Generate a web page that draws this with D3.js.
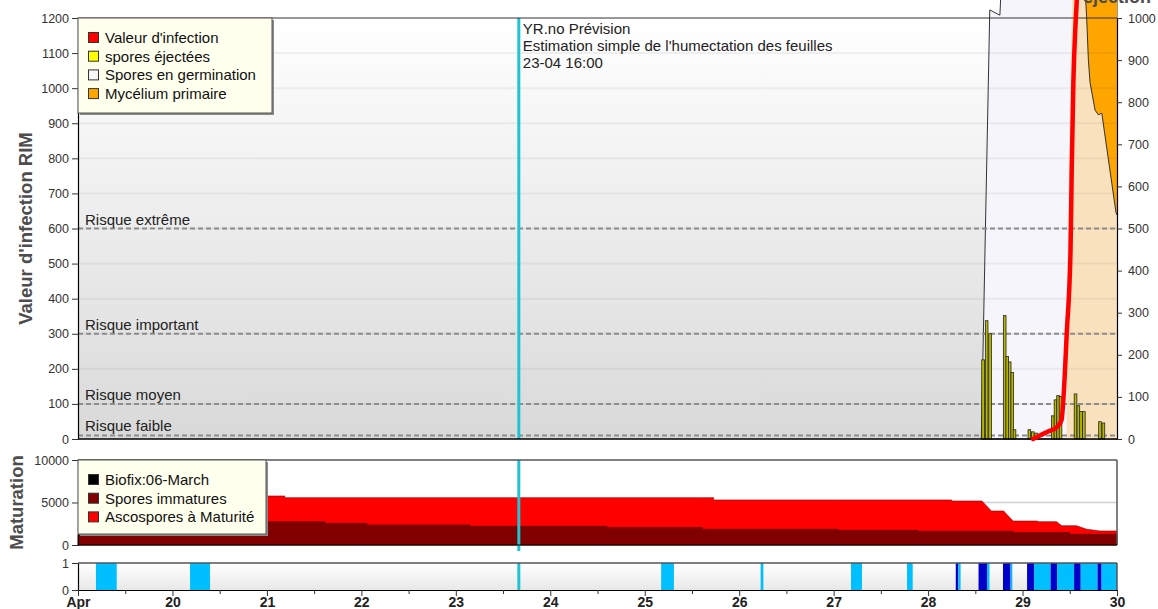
<!DOCTYPE html>
<html>
  <head>
    <title>RIM - Valeur d'infection</title>
    <style>
      body {
        margin: 0;
        background: #fff;
      }
      text {
        font-family: 'Liberation Sans', Arial, sans-serif;
      }
    </style>
  </head>
  <body>
    <svg id="svg" width="1158" height="609"></svg>
    <script src="https://cdn.jsdelivr.net/npm/d3@7"></script>
    <script>
      const left = 78;
      const right = 1117;

      // days of April (decimal), x axis
      const dayTicks = [19, 20, 21, 22, 23, 24, 25, 26, 27, 28, 29, 30];
      const dayLabels = ['Apr', '20', '21', '22', '23', '24', '25', '26', '27', '28', '29', '30'];

      const riskValues = [600, 300, 100, 10];
      const riskLabels = ['Risque extrême', 'Risque important', 'Risque moyen', 'Risque faible'];

      const forecastDay = 23.667;
      const forecastLines = ['YR.no Prévision', "Estimation simple de l'humectation des feuilles", '23-04 16:00'];

      const legendNames = ["Valeur d'infection", 'spores éjectées', 'Spores en germination', 'Mycélium primaire'];
      const legendColors = ['#ff0000', '#ffff00', '#f6f6f6', '#ffa500'];

      // spores ejected (right axis)
      const sporeDays = [28.582, 28.62, 28.656, 28.811, 28.838, 28.864, 28.891, 28.915, 29.072, 29.108, 29.143,
        29.321, 29.349, 29.376, 29.402, 29.561, 29.591, 29.619, 29.649, 29.82, 29.856];
      const sporeValues = [188, 281, 250, 293, 196, 183, 158, 22, 22, 17, 14, 55, 93, 103, 101, 107, 79, 65, 65, 41, 38];

      // spores in germination (left axis)
      const germDays = [28.563, 28.653, 28.76, 28.78, 30];
      const germValues = [0, 1223, 1208, 1320, 1320];

      // primary mycelium, light part (left axis)
      const myceliumDays = [29.465, 29.48, 29.5, 29.53, 30];
      const myceliumValues = [0, 540, 900, 1320, 1320];

      // primary mycelium, remaining (right axis)
      const primaryDays = [29.655, 29.68, 29.697, 29.715, 29.768, 29.803, 29.839, 29.99, 30];
      const primaryValues = [1100, 995, 900, 846, 781, 770, 774, 537, 532];

      // infection value RIM (left axis)
      const infectionDays = [29.111, 29.153, 29.259, 29.365, 29.413, 29.432, 29.468, 29.508, 29.521, 29.538, 29.563, 29.574, 29.59];
      const infectionValues = [0, 6, 20, 34, 54, 111, 302, 539, 775, 1015, 1194, 1251, 1400];

      // maturation
      const matDays = [19, 21, 21, 21.19, 21.19, 21.615, 21.615, 22.06, 22.06, 23.15, 23.15, 24.6, 24.6,
        25.61, 25.61, 25.73, 25.73, 27.05, 27.05, 27.89, 27.89, 28.25, 28.25, 28.57, 28.67, 28.8,
        28.9, 28.9, 29.16, 29.16, 29.36, 29.415, 29.5, 29.5, 29.57, 29.68, 29.82, 30];
      const immatureValues = [1180, 1180, 2740, 2740, 2740, 2740, 2550, 2550, 2350, 2350, 2200, 2200, 2050,
        2050, 1850, 1850, 1850, 1850, 1730, 1730, 1620, 1620, 1620, 1620, 1620, 1620,
        1620, 1470, 1470, 1470, 1470, 1470, 1470, 1260, 1260, 1260, 1260, 1260];
      const totalValues = [1180, 1180, 5765, 5765, 5570, 5570, 5570, 5570, 5570, 5570, 5570, 5570, 5570,
        5570, 5570, 5570, 5300, 5300, 5300, 5300, 5300, 5300, 5180, 5180, 4000, 4000,
        2820, 2820, 2820, 2740, 2740, 2270, 2270, 2270, 2270, 1850, 1650, 1650];
      const matNames = ['Biofix:06-March', 'Spores immatures', 'Ascospores à Maturité'];
      const matColors = ['#000000', '#800000', '#ff0000'];

      // leaf wetness (1 = estimated, 2 = measured)
      const wetStart = [19.19, 20.186, 25.174, 26.227, 27.184, 27.777, 28.293, 28.32, 28.534, 28.624, 28.793, 28.873,
        29.048, 29.122, 29.297, 29.366, 29.546, 29.616, 29.794, 29.837];
      const wetEnd = [19.41, 20.398, 25.309, 26.256, 27.3, 27.837, 28.32, 28.344, 28.624, 28.65, 28.873, 28.892,
        29.122, 29.297, 29.366, 29.546, 29.616, 29.794, 29.837, 30];
      const wetLevel = [1, 1, 1, 1, 1, 1, 2, 1, 2, 1, 2, 1, 2, 1, 2, 1, 2, 1, 2, 1];

      const svg = d3.select('#svg');
      const defs = svg.append('defs');
      const gMain = defs.append('linearGradient').attr('id', 'bgMain')
        .attr('x1', 0).attr('y1', 0).attr('x2', 0).attr('y2', 1);
      gMain.append('stop').attr('offset', '0%').attr('stop-color', '#ffffff');
      gMain.append('stop').attr('offset', '100%').attr('stop-color', '#d9d9d9');
      const gStrip = defs.append('linearGradient').attr('id', 'bgStrip')
        .attr('x1', 0).attr('y1', 0).attr('x2', 0).attr('y2', 1);
      gStrip.append('stop').attr('offset', '0%').attr('stop-color', '#ffffff');
      gStrip.append('stop').attr('offset', '100%').attr('stop-color', '#e8e8e8');

      const xScale = d3.scaleLinear().domain([19, 30]).range([left, right]);
      const yLeft = d3.scaleLinear().domain([0, 1200]).range([439, 18]);
      const yRight = d3.scaleLinear().domain([0, 1000]).range([439, 18]);
      const yMat = d3.scaleLinear().domain([0, 10000]).range([545, 460]);
      const yWet = d3.scaleLinear().domain([0, 1]).range([590, 563]);
      const cyan = '#1fc3d3';
      const plain = d3.format('d');

      function styleAxis(g) {
        g.attr('font-size', 12.5);
        g.select('.domain').attr('stroke', '#000').attr('stroke-width', 1.2);
        g.selectAll('.tick line').attr('stroke', '#333');
        g.selectAll('text').attr('fill', '#333');
      }

      function legend(x, y, w, h, names, colors) {
        const g = svg.append('g');
        g.append('rect').attr('x', x + 2).attr('y', y + 2).attr('width', w).attr('height', h).attr('fill', '#8a8a8a');
        g.append('rect').attr('x', x).attr('y', y).attr('width', w).attr('height', h)
          .attr('fill', '#ffffee').attr('stroke', '#555').attr('stroke-width', 1);
        names.forEach((name, i) => {
          const base = y + 25 + i * 18.7;
          g.append('rect').attr('x', x + 10.5).attr('y', base - 10.5).attr('width', 10).attr('height', 10)
            .attr('fill', colors[i]).attr('stroke', '#333').attr('stroke-width', 1);
          g.append('text').attr('x', x + 27).attr('y', base).attr('font-size', 15).attr('fill', '#111').text(name);
        });
      }

      // ---------- main panel ----------
      const main = svg.append('g');
      main.append('rect')
        .attr('x', left).attr('y', yLeft(1200))
        .attr('width', right - left).attr('height', yLeft(0) - yLeft(1200))
        .attr('fill', 'url(#bgMain)');

      const leftArea = d3.area().x((d) => xScale(d[0])).y0(yLeft(0)).y1((d) => yLeft(d[1]));
      main.append('path')
        .attr('d', leftArea(d3.zip(germDays, germValues)))
        .attr('fill', '#f5f5fb').attr('stroke', '#333').attr('stroke-width', 1);
      main.append('path')
        .attr('d', leftArea(d3.zip(myceliumDays, myceliumValues)))
        .attr('fill', '#fae1be');

      const primaryTop = d3.max(primaryValues);
      const primaryArea = d3.area().x((d) => xScale(d[0])).y0((d) => yRight(d[1])).y1(yRight(primaryTop));
      main.append('path')
        .attr('d', primaryArea(d3.zip(primaryDays, primaryValues)))
        .attr('fill', '#ffa500');
      main.append('path')
        .attr('d', d3.line().x((d) => xScale(d[0])).y((d) => yRight(d[1]))(d3.zip(primaryDays, primaryValues)))
        .attr('fill', 'none').attr('stroke', '#333').attr('stroke-width', 1);

      // grid
      main.selectAll('.grid')
        .data(d3.range(100, 1200, 100))
        .join('line')
        .attr('x1', left).attr('x2', right)
        .attr('y1', (d) => yLeft(d)).attr('y2', (d) => yLeft(d))
        .attr('stroke', '#000').attr('stroke-opacity', 0.05).attr('stroke-width', 2);

      // risk levels
      main.selectAll('.risk')
        .data(riskValues)
        .join('line')
        .attr('x1', left).attr('x2', right)
        .attr('y1', (d) => yLeft(d)).attr('y2', (d) => yLeft(d))
        .attr('stroke', '#8c8c8c').attr('stroke-width', 2).attr('stroke-dasharray', '5,3');
      main.selectAll('.riskLabel')
        .data(riskValues)
        .join('text')
        .attr('x', left + 7).attr('y', (d) => yLeft(d) - 4)
        .attr('font-size', 15).attr('fill', '#222')
        .text((d, i) => riskLabels[i]);

      // spores bars
      const halfBar = 0.014;
      main.selectAll('.bar')
        .data(d3.zip(sporeDays, sporeValues))
        .join('rect')
        .attr('x', (d) => xScale(d[0] - halfBar))
        .attr('width', (d) => xScale(d[0] + halfBar) - xScale(d[0] - halfBar))
        .attr('y', (d) => yRight(d[1]))
        .attr('height', (d) => yRight(0) - yRight(d[1]))
        .attr('fill', '#b8b800').attr('stroke', '#222').attr('stroke-width', 0.8);

      // forecast marker
      main.append('line')
        .attr('x1', xScale(forecastDay)).attr('x2', xScale(forecastDay))
        .attr('y1', yLeft(1200)).attr('y2', yLeft(0))
        .attr('stroke', cyan).attr('stroke-width', 3);
      main.selectAll('.fc')
        .data(forecastLines)
        .join('text')
        .attr('x', xScale(forecastDay) + 4)
        .attr('y', (d, i) => 34 + i * 17)
        .attr('font-size', 15).attr('fill', '#222')
        .text((d) => d);

      // frame
      main.append('line')
        .attr('x1', left).attr('x2', right).attr('y1', yLeft(1200)).attr('y2', yLeft(1200))
        .attr('stroke', '#333').attr('stroke-width', 1.2);
      main.append('line')
        .attr('x1', left).attr('x2', right).attr('y1', yLeft(0)).attr('y2', yLeft(0))
        .attr('stroke', '#000').attr('stroke-width', 1.5);
      main.append('g')
        .attr('transform', `translate(${left}, 0)`)
        .call(d3.axisLeft(yLeft).tickValues(d3.range(0, 1201, 100)).tickFormat(plain).tickSize(6).tickPadding(3).tickSizeOuter(0))
        .call(styleAxis);
      main.append('g')
        .attr('transform', `translate(${right}, 0)`)
        .call(d3.axisRight(yRight).tickValues(d3.range(0, 1001, 100)).tickFormat(plain).tickSize(5).tickPadding(6).tickSizeOuter(0))
        .call(styleAxis);

      // infection line
      main.append('path')
        .attr('d', d3.line().x((d) => xScale(d[0])).y((d) => yLeft(d[1])).curve(d3.curveMonotoneX)(d3.zip(infectionDays, infectionValues)))
        .attr('fill', 'none').attr('stroke', '#ff0000').attr('stroke-width', 4.5).attr('stroke-linecap', 'round');

      main.append('text')
        .attr('transform', `translate(32, ${(yLeft(0) + yLeft(1200)) / 2}) rotate(-90)`)
        .attr('text-anchor', 'middle').attr('font-size', 18.5).attr('font-weight', 'bold').attr('fill', '#4d4d4d')
        .text("Valeur d'infection RIM");
      main.append('text')
        .attr('x', 1151).attr('y', 3)
        .attr('text-anchor', 'end').attr('font-size', 18).attr('font-weight', 'bold').attr('fill', '#4d4d4d')
        .text('éjection');

      legend(left, yLeft(1200), 194, 95, legendNames, legendColors);

      // ---------- maturation panel ----------
      const mat = svg.append('g');
      mat.append('rect')
        .attr('x', left).attr('y', yMat(10000))
        .attr('width', right - left).attr('height', yMat(0) - yMat(10000))
        .attr('fill', '#fff');
      mat.append('line')
        .attr('x1', left).attr('x2', right).attr('y1', yMat(5000)).attr('y2', yMat(5000))
        .attr('stroke', '#d0d0d0').attr('stroke-width', 1.5);
      const matRows = matDays.map((d, i) => ({ day: d, immature: immatureValues[i], total: totalValues[i] }));
      mat.append('path')
        .attr('d', d3.area().x((d) => xScale(d.day)).y0(yMat(0)).y1((d) => yMat(d.total))(matRows))
        .attr('fill', '#ff0000').attr('stroke', '#8a0000').attr('stroke-width', 0.6);
      mat.append('path')
        .attr('d', d3.area().x((d) => xScale(d.day)).y0(yMat(0)).y1((d) => yMat(d.immature))(matRows))
        .attr('fill', '#800000').attr('stroke', '#5a0000').attr('stroke-width', 0.6);
      mat.append('line')
        .attr('x1', xScale(forecastDay)).attr('x2', xScale(forecastDay))
        .attr('y1', yMat(10000)).attr('y2', yMat(0) + 6)
        .attr('stroke', cyan).attr('stroke-width', 3);
      mat.append('line')
        .attr('x1', left).attr('x2', right).attr('y1', yMat(10000)).attr('y2', yMat(10000))
        .attr('stroke', '#555').attr('stroke-width', 1.5);
      mat.append('line')
        .attr('x1', right).attr('x2', right).attr('y1', yMat(10000)).attr('y2', yMat(0))
        .attr('stroke', '#555').attr('stroke-width', 1.5);
      mat.append('line')
        .attr('x1', left).attr('x2', right).attr('y1', yMat(0)).attr('y2', yMat(0))
        .attr('stroke', '#000').attr('stroke-width', 1.2);
      mat.append('g')
        .attr('transform', `translate(${left}, 0)`)
        .call(d3.axisLeft(yMat).tickValues([0, 5000, 10000]).tickFormat(plain).tickSize(6).tickPadding(3).tickSizeOuter(0))
        .call(styleAxis);
      mat.append('text')
        .attr('transform', `translate(23, ${(yMat(0) + yMat(10000)) / 2}) rotate(-90)`)
        .attr('text-anchor', 'middle').attr('font-size', 18.5).attr('font-weight', 'bold').attr('fill', '#4d4d4d')
        .text('Maturation');
      legend(left, yMat(10000), 188, 74, matNames, matColors);

      // ---------- leaf wetness strip ----------
      const wet = svg.append('g');
      wet.append('rect')
        .attr('x', left).attr('y', yWet(1))
        .attr('width', right - left).attr('height', yWet(0) - yWet(1))
        .attr('fill', 'url(#bgStrip)');
      wet.selectAll('.wet')
        .data(d3.range(wetStart.length))
        .join('rect')
        .attr('x', (i) => xScale(wetStart[i]))
        .attr('width', (i) => xScale(wetEnd[i]) - xScale(wetStart[i]))
        .attr('y', yWet(1))
        .attr('height', yWet(0) - yWet(1))
        .attr('fill', (i) => (wetLevel[i] === 2 ? '#0000c8' : '#00bfff'));
      wet.append('line')
        .attr('x1', xScale(forecastDay)).attr('x2', xScale(forecastDay))
        .attr('y1', yWet(1)).attr('y2', yWet(0))
        .attr('stroke', cyan).attr('stroke-width', 3);
      wet.append('line')
        .attr('x1', left).attr('x2', right).attr('y1', yWet(1)).attr('y2', yWet(1))
        .attr('stroke', '#555').attr('stroke-width', 1.5);
      wet.append('line')
        .attr('x1', right).attr('x2', right).attr('y1', yWet(1)).attr('y2', yWet(0))
        .attr('stroke', '#555').attr('stroke-width', 1.5);
      wet.append('g')
        .attr('transform', `translate(${left}, 0)`)
        .call(d3.axisLeft(yWet).tickValues([0, 1]).tickFormat(plain).tickSize(6).tickPadding(3).tickSizeOuter(0))
        .call(styleAxis);

      const xg = wet.append('g')
        .attr('transform', `translate(0, ${yWet(0)})`)
        .call(d3.axisBottom(xScale).tickValues(dayTicks).tickSize(6).tickSizeOuter(0).tickFormat((d, i) => dayLabels[i]))
        .call(styleAxis);
      xg.selectAll('text')
        .attr('y', 17).attr('dy', 0)
        .attr('font-size', 14).attr('font-weight', 'bold').attr('fill', '#222');
      wet.append('g')
        .attr('transform', `translate(0, ${yWet(0)})`)
        .call(d3.axisBottom(xScale).tickValues(d3.range(19.5, 30, 1)).tickSize(4).tickSizeOuter(0).tickFormat(''))
        .call((g) => g.select('.domain').remove())
        .call((g) => g.selectAll('.tick line').attr('stroke', '#333'));
    </script>
  </body>
</html>
